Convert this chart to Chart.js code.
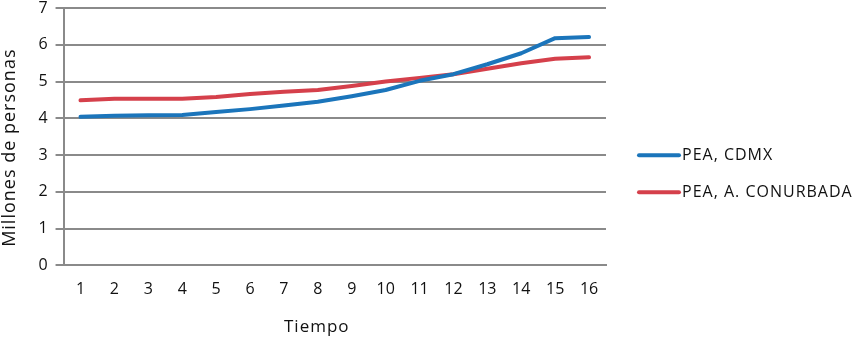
<!DOCTYPE html>
<html>
<head>
<meta charset="utf-8">
<script src="https://cdn.jsdelivr.net/npm/chart.js@4"></script>
<style>
html,body{margin:0;padding:0;background:#fff;}
#wrap{width:852px;height:338px;position:relative;}
</style>
</head>
<body>
<div id="wrap"><canvas id="c" width="852" height="338"></canvas></div>
<script>
const categories = ['1','2','3','4','5','6','7','8','9','10','11','12','13','14','15','16'];
const seriesNames = ['PEA, CDMX', 'PEA, A. CONURBADA'];
const peaCdmx = [4.04, 4.07, 4.08, 4.09, 4.17, 4.25, 4.35, 4.45, 4.60, 4.77, 5.02, 5.20, 5.47, 5.77, 6.18, 6.21];
const peaConurbada = [4.49, 4.53, 4.53, 4.53, 4.58, 4.66, 4.72, 4.77, 4.88, 5.00, 5.10, 5.20, 5.35, 5.50, 5.62, 5.66];
const yTicks = [0, 1, 2, 3, 4, 5, 6, 7];
const xTitle = 'Tiempo';
const yTitle = 'Millones de personas';

const TEXT = '#111';
const FONT = 'Open Sans';

// Axis titles (space reserved by Chart.js, drawn with letter spacing) and legend
const decor = {
  id: 'decor',
  afterDraw(chart) {
    const ctx = chart.ctx;
    const a = chart.chartArea;
    ctx.save();
    ctx.fillStyle = TEXT;
    ctx.letterSpacing = '1px';
    ctx.textBaseline = 'middle';
    ctx.textAlign = 'center';
    // y title
    ctx.font = '18px "' + FONT + '"';
    ctx.save();
    ctx.translate(a.left - 54, (a.top + a.bottom) / 2 + 11);
    ctx.rotate(-Math.PI / 2);
    ctx.fillText(yTitle, 0, 0);
    ctx.restore();
    // x title
    ctx.font = '17px "' + FONT + '"';
    ctx.fillText(xTitle, (a.left + a.right) / 2 - 18, a.bottom + 62);
    // legend
    ctx.font = '16px "' + FONT + '"';
    ctx.textAlign = 'left';
    const cy = (a.top + a.bottom) / 2 + 37;
    const n = chart.data.datasets.length;
    chart.data.datasets.forEach((ds, i) => {
      const y = cy + (i - (n - 1) / 2) * 37;
      const x0 = a.right + 33;
      ctx.strokeStyle = ds.borderColor;
      ctx.lineWidth = 4;
      ctx.lineCap = 'round';
      ctx.beginPath();
      ctx.moveTo(x0, y);
      ctx.lineTo(x0 + 40, y);
      ctx.stroke();
      ctx.fillText(ds.label, x0 + 43, y);
    });
    ctx.restore();
  }
};

new Chart(document.getElementById('c'), {
  type: 'line',
  data: {
    labels: categories,
    datasets: [
      { label: seriesNames[0], data: peaCdmx, borderColor: '#1b75bb', backgroundColor: '#1b75bb',
        borderWidth: 4, pointRadius: 0, tension: 0, borderCapStyle: 'round', borderJoinStyle: 'round' },
      { label: seriesNames[1], data: peaConurbada, borderColor: '#d5404b', backgroundColor: '#d5404b',
        borderWidth: 4, pointRadius: 0, tension: 0, borderCapStyle: 'round', borderJoinStyle: 'round' }
    ]
  },
  options: {
    responsive: false,
    animation: false,
    devicePixelRatio: 1,
    layout: { padding: { left: 4, right: 246, top: 0, bottom: 1 } },
    plugins: {
      legend: { display: false },
      tooltip: { enabled: false }
    },
    scales: {
      x: {
        offset: true,
        grid: { display: false, drawTicks: false },
        border: { display: true, color: '#8a8a8a', width: 2 },
        ticks: { color: TEXT, font: { family: FONT, size: 16 }, padding: 14, maxRotation: 0 },
        title: { display: true, text: xTitle, color: 'rgba(0,0,0,0)', font: { family: FONT, size: 17 }, padding: { top: 4, bottom: 0 } },
        afterFit(axis) { axis.paddingLeft = 0; axis.paddingRight = 0; }
      },
      y: {
        min: 0, max: 7,
        afterBuildTicks(axis){ axis.ticks = yTicks.map(v => ({ value: v })); },
        grid: { color: '#8a8a8a', lineWidth: 2, tickLength: 8 },
        border: { display: true, color: '#8a8a8a', width: 2 },
        ticks: { color: TEXT, font: { family: FONT, size: 16 }, padding: 8 },
        title: { display: true, text: yTitle, color: 'rgba(0,0,0,0)', font: { family: FONT, size: 17 }, padding: { top: 0, bottom: 6 } },
        afterFit(axis) { axis.paddingTop = 8; axis.paddingBottom = 0; }
      }
    }
  },
  plugins: [decor]
});
</script>
</body>
</html>
